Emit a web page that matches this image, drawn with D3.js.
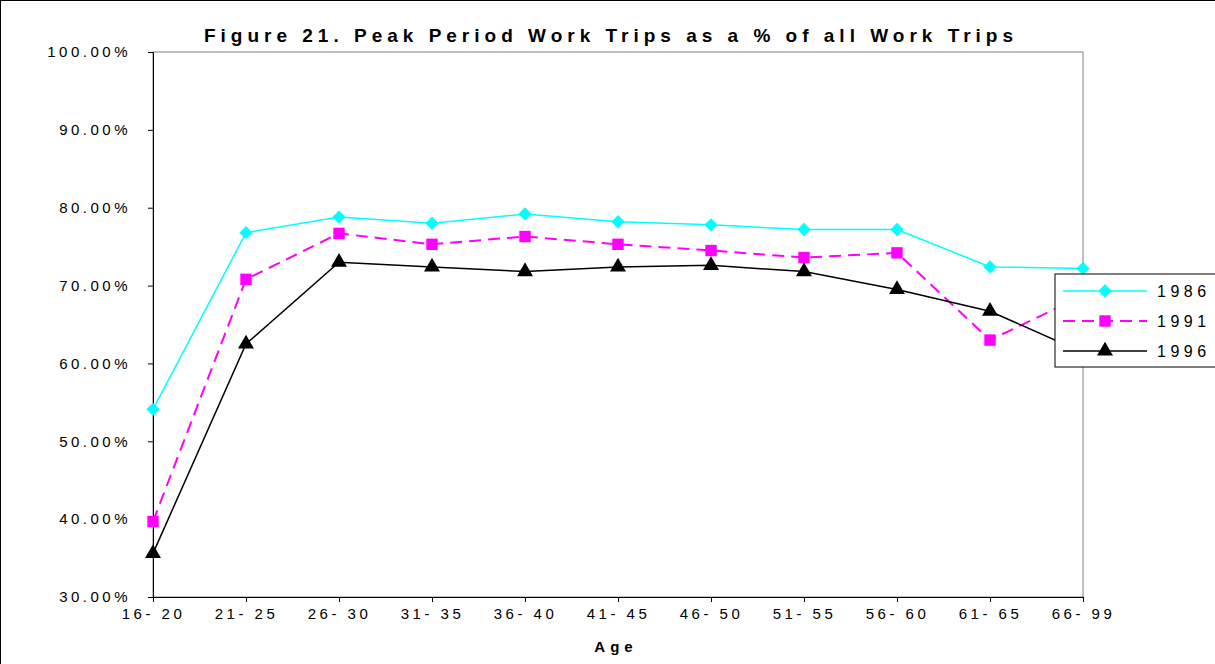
<!DOCTYPE html>
<html><head><meta charset="utf-8">
<script src="https://cdn.jsdelivr.net/npm/d3@7"></script>
<style>body{margin:0;background:#fff}svg{font-family:"Liberation Sans",Arial,sans-serif}</style>
</head><body><svg id="c" width="1215" height="664"></svg>
<script>
var ages = ['16- 20','21- 25','26- 30','31- 35','36- 40','41- 45','46- 50','51- 55','56- 60','61- 65','66- 99'];
var v1986 = [54.1,76.8,78.8,78.0,79.2,78.2,77.8,77.2,77.2,72.4,72.2];
var v1991 = [39.7,70.8,76.7,75.3,76.3,75.3,74.5,73.6,74.2,63.0,68.7];
var v1996 = [35.6,62.5,73.0,72.4,71.8,72.4,72.6,71.8,69.5,66.7,61.4];
var yTicks = [30,40,50,60,70,80,90,100];

var svg = d3.select('#c');
var L = 153, R = 1083, T = 52, B = 597;
var x = d3.scalePoint().domain(ages).range([L, R]);
var y = d3.scaleLinear().domain([30, 100]).range([B, T]);

svg.append('rect').attr('x',0.5).attr('y',0.5).attr('width',1230).attr('height',680).attr('fill','none').attr('stroke','#000');
svg.append('rect').attr('x',L).attr('y',T).attr('width',R-L).attr('height',B-T).attr('fill','none').attr('stroke','#808080');

svg.append('text').attr('x',611).attr('y',42).attr('text-anchor','middle').attr('font-size',19).attr('font-weight','bold')
  .attr('letter-spacing','5px').text('Figure 21. Peak Period Work Trips as a % of all Work Trips');

var ya = svg.append('g').attr('transform','translate('+L+',0)')
  .call(d3.axisLeft(y).tickValues(yTicks).tickSize(5).tickFormat(function(d){return d.toFixed(2)+'%';}));
var xa = svg.append('g').attr('transform','translate(0,'+B+')').call(d3.axisBottom(x).tickSize(5));
[ya, xa].forEach(function(a){
  a.select('.domain').attr('stroke','#000');
  a.selectAll('line').attr('stroke','#000');
  a.selectAll('text').attr('font-size',15).attr('letter-spacing','3.5px').attr('fill','#000');
});
ya.selectAll('text').attr('dx',-14);
xa.selectAll('text').attr('dy',14);
svg.append('text').attr('x',616).attr('y',652).attr('text-anchor','middle').attr('font-size',15).attr('font-weight','bold').attr('letter-spacing','5px').text('Age');

var diamond = {draw:function(ctx,size){var r=Math.sqrt(size)/1.3;ctx.moveTo(0,-r);ctx.lineTo(r,0);ctx.lineTo(0,r);ctx.lineTo(-r,0);ctx.closePath();}};
var series = [
  {name:'1986', vals:v1986, color:'#00ffff', dash:null, sym:diamond, size:75, w:1.5},
  {name:'1991', vals:v1991, color:'#ff00ff', dash:'12,7', sym:d3.symbolSquare, size:130, w:2},
  {name:'1996', vals:v1996, color:'#000', dash:null, sym:d3.symbolTriangle, size:110, w:1.5}
];
var line = d3.line().x(function(d,i){return x(ages[i]);}).y(function(d){return y(d);});
series.forEach(function(s){
  svg.append('path').datum(s.vals).attr('d',line).attr('fill','none').attr('stroke',s.color)
    .attr('stroke-width',s.w).attr('stroke-dasharray',s.dash);
  svg.selectAll(null).data(s.vals).enter().append('path')
    .attr('d',d3.symbol().type(s.sym).size(s.size))
    .attr('transform',function(d,i){return 'translate('+x(ages[i])+','+y(d)+')';})
    .attr('fill',s.color);
});

var lg = svg.append('g').attr('transform','translate(1055,274)');
lg.append('rect').attr('width',170).attr('height',93).attr('fill','#fff').attr('stroke','#000');
series.forEach(function(s,i){
  var yy = 17 + i*30;
  lg.append('line').attr('x1',8).attr('x2',92).attr('y1',yy).attr('y2',yy).attr('stroke',s.color)
    .attr('stroke-width',s.w).attr('stroke-dasharray',s.dash);
  lg.append('path').attr('d',d3.symbol().type(s.sym).size(s.size)).attr('transform','translate(50,'+yy+')').attr('fill',s.color);
  lg.append('text').attr('x',102).attr('y',yy+6).attr('font-size',16).attr('letter-spacing','4.5px').text(s.name);
});
</script></body></html>
